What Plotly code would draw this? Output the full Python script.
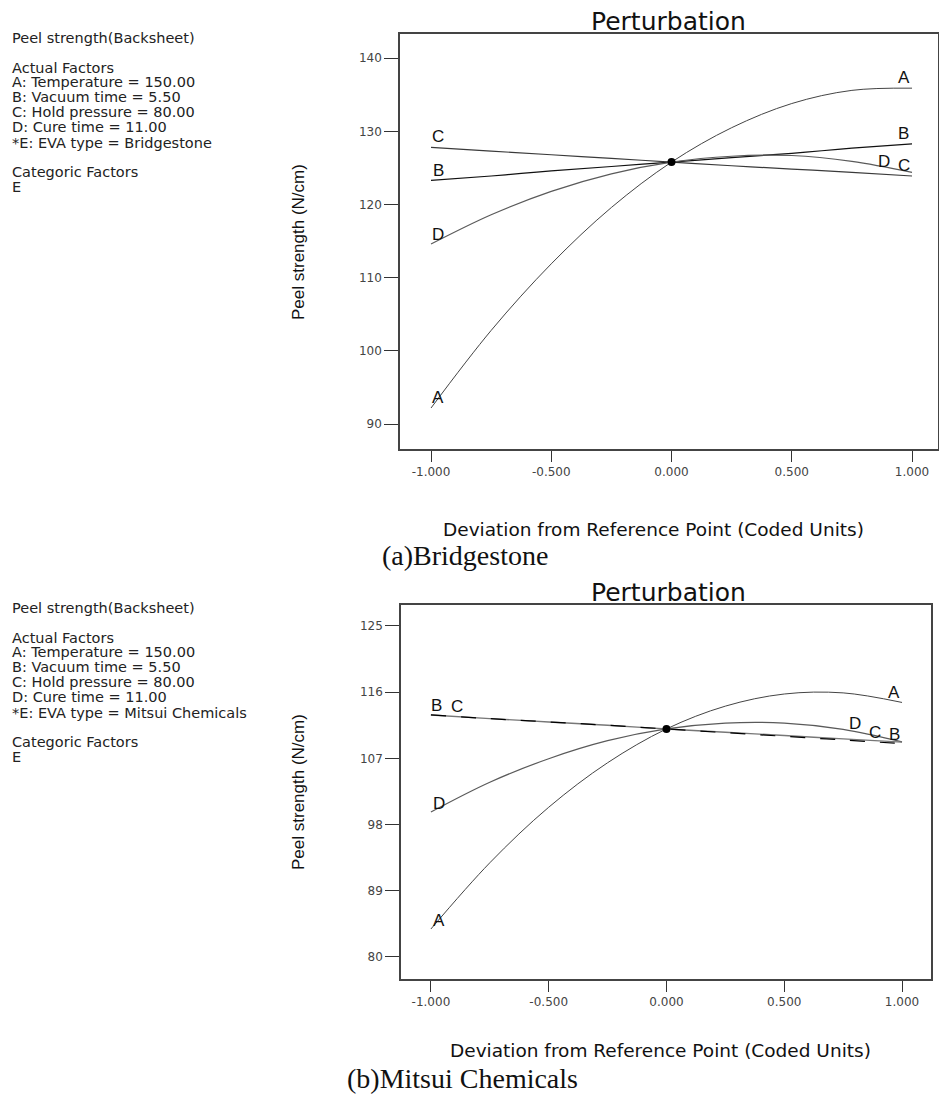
import plotly.graph_objects as go

# ---------------- data ----------------
X_POINTS = [-1.0, -0.75, -0.5, -0.25, 0.0, 0.25, 0.5, 0.75, 1.0]

# (a) Bridgestone
BS_A = [92.2, 102.8, 111.9, 119.6, 125.8, 130.5, 133.8, 135.6, 135.9]
BS_B = [123.3, 123.9, 124.6, 125.2, 125.8, 126.4, 127.0, 127.7, 128.3]
BS_C = [127.8, 127.3, 126.8, 126.3, 125.8, 125.3, 124.85, 124.4, 123.9]
BS_D = [114.6, 118.6, 121.8, 124.2, 125.8, 126.6, 126.7, 125.9, 124.4]
BS_REF = 125.8

# (b) Mitsui Chemicals
MC_A = [83.8, 92.8, 100.35, 106.4, 111.0, 114.1, 115.75, 115.9, 114.6]
MC_B = [112.9, 112.4, 111.95, 111.5, 111.0, 110.5, 110.0, 109.5, 109.0]
MC_C = [112.9, 112.4, 111.95, 111.5, 111.0, 110.55, 110.1, 109.65, 109.2]
MC_D = [99.7, 103.75, 106.95, 109.4, 111.0, 111.8, 111.8, 110.95, 109.25]
MC_REF = 111.0

X_TICKS = [-1.0, -0.5, 0.0, 0.5, 1.0]
X_TICK_TEXT = ["-1.000", "-0.500", "0.000", "0.500", "1.000"]
BS_Y_TICKS = [90, 100, 110, 120, 130, 140]
MC_Y_TICKS = [80, 89, 98, 107, 116, 125]

FACTOR_LINES_COMMON = [
    "Peel strength(Backsheet)",
    "Actual Factors",
    "A: Temperature = 150.00",
    "B: Vacuum time = 5.50",
    "C: Hold pressure = 80.00",
    "D: Cure time = 11.00",
]
BS_EVA = "*E: EVA type = Bridgestone"
MC_EVA = "*E: EVA type = Mitsui Chemicals"
CATEGORIC = ["Categoric Factors", "E"]

# label positions (factor letter, x, y) per chart
BS_LABELS = [("C", -0.97, 129.3), ("B", -0.97, 124.6), ("D", -0.97, 115.9), ("A", -0.97, 93.7),
             ("A", 0.965, 137.3), ("B", 0.965, 129.7), ("D", 0.884, 125.9), ("C", 0.965, 125.3)]
MC_LABELS = [("B", -0.975, 114.2), ("C", -0.89, 114.0), ("D", -0.966, 100.9), ("A", -0.966, 85.0),
             ("A", 0.966, 115.9), ("D", 0.80, 111.7), ("C", 0.884, 110.5), ("B", 0.966, 110.25)]

W, H = 939, 1097


def px(x):
    return x / W


def py(y):
    return 1 - y / H


fig = go.Figure()

# ---- top chart traces ----
top_styles = [
    (BS_C, "#3a3a3a", 1.2, "solid"),
    (BS_B, "#111111", 1.2, "solid"),
    (BS_D, "#5a5a5a", 1.2, "solid"),
    (BS_A, "#444444", 1.0, "solid"),
]
for ys, col, w, dash in top_styles:
    fig.add_trace(go.Scatter(x=X_POINTS, y=ys, mode="lines",
                             line=dict(color=col, width=w, shape="spline", dash=dash),
                             xaxis="x", yaxis="y", hoverinfo="skip"))
fig.add_trace(go.Scatter(x=[0.0], y=[BS_REF], mode="markers",
                         marker=dict(color="black", size=8), xaxis="x", yaxis="y"))

# ---- bottom chart traces ----
bot_styles = [
    (MC_D, "#5a5a5a", 1.2, "solid"),
    (MC_A, "#444444", 1.0, "solid"),
    (MC_C, "#777777", 1.4, "solid"),
    (MC_B, "#000000", 1.2, "longdash"),
]
for ys, col, w, dash in bot_styles:
    fig.add_trace(go.Scatter(x=X_POINTS, y=ys, mode="lines",
                             line=dict(color=col, width=w, shape="spline", dash=dash),
                             xaxis="x2", yaxis="y2", hoverinfo="skip"))
fig.add_trace(go.Scatter(x=[0.0], y=[MC_REF], mode="markers",
                         marker=dict(color="black", size=8), xaxis="x2", yaxis="y2"))

tickfont = dict(family="DejaVu Sans, Liberation Sans", size=12, color="#444444")
axis_common = dict(showline=True, linecolor="#444444", linewidth=1.5, mirror=True,
                   ticks="outside", tickcolor="#333333", tickwidth=1.2,
                   showgrid=False, zeroline=False, tickfont=tickfont)

fig.update_layout(
    width=W, height=H,
    margin=dict(l=0, r=0, t=0, b=0),
    paper_bgcolor="white", plot_bgcolor="white",
    showlegend=False,
    xaxis=dict(domain=[px(400), px(938)], anchor="y", range=[-1.129, 1.108],
               tickvals=X_TICKS, ticktext=X_TICK_TEXT, ticklen=11, **axis_common),
    yaxis=dict(domain=[py(449), py(34)], anchor="x", range=[86.6, 143.3],
               tickvals=BS_Y_TICKS, ticklen=14, **axis_common),
    xaxis2=dict(domain=[px(401), px(931)], anchor="y2", range=[-1.127, 1.123],
                tickvals=X_TICKS, ticktext=X_TICK_TEXT, ticklen=11, **axis_common),
    yaxis2=dict(domain=[py(979), py(605)], anchor="x2", range=[77.0, 127.85],
                tickvals=MC_Y_TICKS, ticklen=14, **axis_common),
)

ann = []
sans = "DejaVu Sans, Liberation Sans"
arial = "Liberation Sans, Arial"

# titles
for ycen in (21, 592):
    ann.append(dict(text="Perturbation", x=px(668), y=py(ycen), xref="paper", yref="paper",
                    showarrow=False, xanchor="center", yanchor="middle",
                    font=dict(family=sans, size=25, color="#111111")))
# y titles
for ycen in (242, 792):
    ann.append(dict(text="Peel strength (N/cm)", x=px(298), y=py(ycen), xref="paper", yref="paper",
                    showarrow=False, xanchor="center", yanchor="middle", textangle=-90,
                    font=dict(family=arial, size=17, color="#111111")))
# x titles
for xc, ycen in ((653, 529), (660, 1050)):
    ann.append(dict(text="Deviation from Reference Point (Coded Units)", x=px(xc), y=py(ycen),
                    xref="paper", yref="paper", showarrow=False, xanchor="center", yanchor="middle",
                    font=dict(family=sans, size=18.5, color="#111111")))
# captions
ann.append(dict(text="(a)Bridgestone", x=px(380), y=py(556), xref="paper", yref="paper",
                showarrow=False, xanchor="left", yanchor="middle",
                font=dict(family="Liberation Serif, Times New Roman", size=28, color="#111111")))
ann.append(dict(text="(b)Mitsui Chemicals", x=px(345), y=py(1078), xref="paper", yref="paper",
                showarrow=False, xanchor="left", yanchor="middle",
                font=dict(family="Liberation Serif, Times New Roman", size=28, color="#111111")))

# factor text blocks
line_ys = [38, 68, 82, 97, 112, 127, 143, 172, 187]
for offset, eva in ((0, BS_EVA), (570, MC_EVA)):
    lines = FACTOR_LINES_COMMON + [eva] + CATEGORIC
    for t, yy in zip(lines, line_ys):
        ann.append(dict(text=t, x=px(10), y=py(yy + offset), xref="paper", yref="paper",
                        showarrow=False, xanchor="left", yanchor="middle",
                        font=dict(family=sans, size=14.5, color="#222222")))

# curve letter labels
for labels, xr, yr in ((BS_LABELS, "x", "y"), (MC_LABELS, "x2", "y2")):
    for t, lx, ly in labels:
        ann.append(dict(text=t, x=lx, y=ly, xref=xr, yref=yr, showarrow=False,
                        xanchor="center", yanchor="middle",
                        font=dict(family=arial, size=17, color="#111111")))

fig.update_layout(annotations=ann)
fig.write_html("out.html")
